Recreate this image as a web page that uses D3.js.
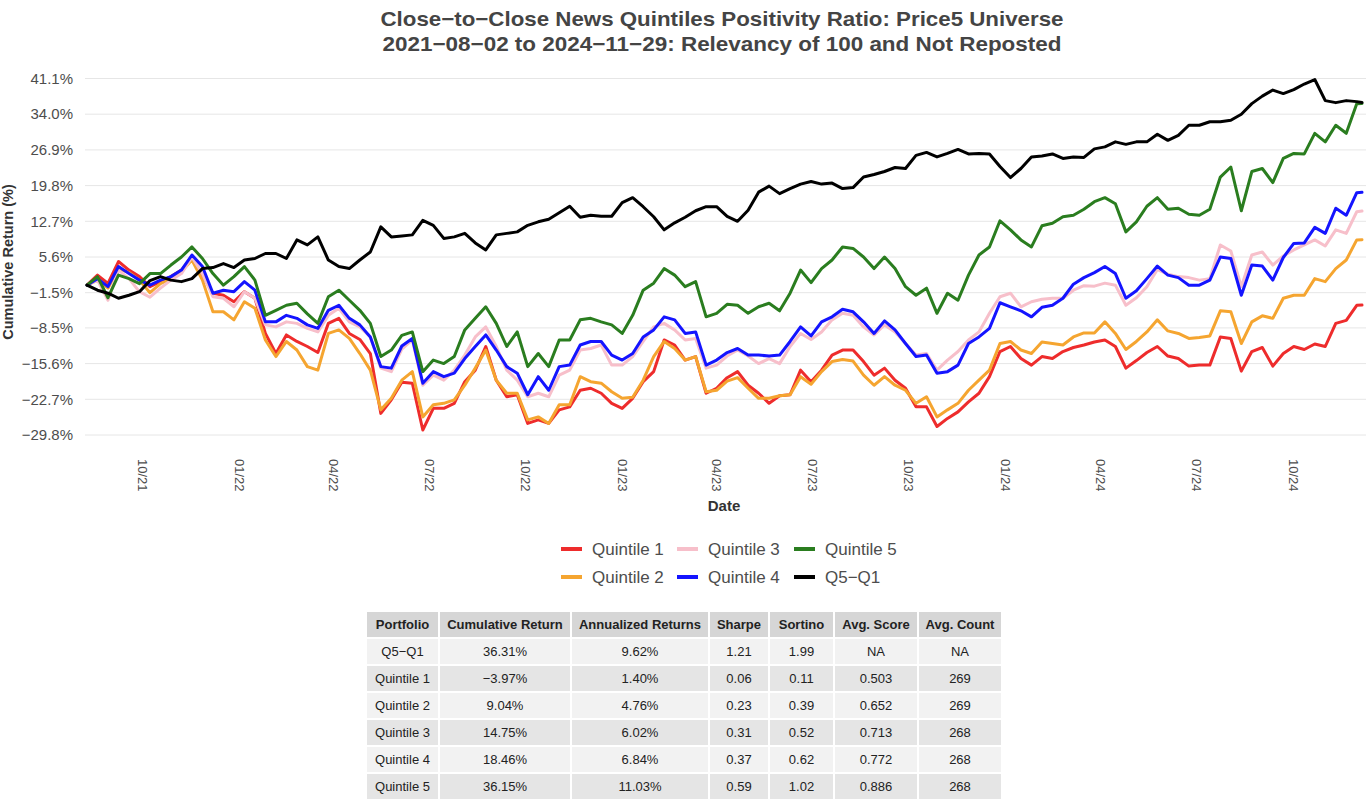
<!DOCTYPE html>
<html><head><meta charset="utf-8">
<script src="https://cdn.jsdelivr.net/npm/d3@7"></script>
<style>body{margin:0;background:#fff}svg{display:block;font-family:"Liberation Sans",Arial,sans-serif}</style>
</head><body><svg id="c" width="1366" height="802"></svg>
<script>
const dates = ["2021-08-02","2021-08-12","2021-08-22","2021-09-01","2021-09-11","2021-09-21","2021-10-01","2021-10-11","2021-10-21","2021-10-31","2021-11-10","2021-11-20","2021-11-30","2021-12-10","2021-12-20","2021-12-30","2022-01-09","2022-01-19","2022-01-29","2022-02-08","2022-02-18","2022-02-28","2022-03-10","2022-03-20","2022-03-30","2022-04-09","2022-04-19","2022-04-29","2022-05-09","2022-05-19","2022-05-29","2022-06-08","2022-06-18","2022-06-28","2022-07-08","2022-07-18","2022-07-28","2022-08-07","2022-08-17","2022-08-27","2022-09-06","2022-09-16","2022-09-26","2022-10-06","2022-10-16","2022-10-26","2022-11-05","2022-11-15","2022-11-25","2022-12-05","2022-12-15","2022-12-25","2023-01-04","2023-01-14","2023-01-24","2023-02-03","2023-02-13","2023-02-23","2023-03-05","2023-03-15","2023-03-25","2023-04-04","2023-04-14","2023-04-24","2023-05-04","2023-05-14","2023-05-24","2023-06-03","2023-06-13","2023-06-23","2023-07-03","2023-07-13","2023-07-23","2023-08-02","2023-08-12","2023-08-22","2023-09-01","2023-09-11","2023-09-21","2023-10-01","2023-10-11","2023-10-21","2023-10-31","2023-11-10","2023-11-20","2023-11-30","2023-12-10","2023-12-20","2023-12-30","2024-01-09","2024-01-19","2024-01-29","2024-02-08","2024-02-18","2024-02-28","2024-03-09","2024-03-19","2024-03-29","2024-04-08","2024-04-18","2024-04-28","2024-05-08","2024-05-18","2024-05-28","2024-06-07","2024-06-17","2024-06-27","2024-07-07","2024-07-17","2024-07-27","2024-08-06","2024-08-16","2024-08-26","2024-09-05","2024-09-15","2024-09-25","2024-10-05","2024-10-15","2024-10-25","2024-11-04","2024-11-14","2024-11-24","2024-11-29"];

const quintile1 = [0,2.0,0.35,4.7,3.0,1.7,-0.3,0.7,1.7,3.0,5.6,2.0,-1.6,-2.0,-3.3,-1.3,-2.6,-9.6,-13.6,-9.9,-11.2,-12.2,-13.4,-7.6,-6.6,-9.6,-10.8,-13.6,-25.5,-22.8,-19.3,
-19.5,-28.8,-24.5,-24.5,-23.5,-19.2,-16.9,-12.2,-18.9,-22.2,-21.8,-27.5,-26.8,-27.5,-24.8,-24.2,-20.9,-20.5,-21.5,-23.5,-24.5,-22.5,-19.2,-17.2,-10.9,-11.9,-14.9,-14.2,-21.5,-20.5,-18.4,
-17.2,-19.9,-21.5,-23.5,-22.0,-21.8,-16.9,-19.2,-16.9,-13.9,-12.9,-12.9,-15.2,-17.9,-16.5,-18.9,-20.5,-24.2,-24.2,-28.1,-26.5,-25.2,-23.2,-21.5,-18.2,-13.2,-12.2,-14.6,-15.9,-14.2,
-14.6,-13.2,-12.4,-11.9,-11.3,-10.9,-12.2,-16.5,-15.0,-13.4,-12.2,-14.1,-14.6,-16.1,-15.9,-15.9,-10.3,-10.6,-17.1,-13.2,-12.4,-16.1,-13.6,-12.2,-12.8,-11.7,-12.2,-7.6,-7.0,-4.0,-3.97];

const quintile2 = [0,1.0,-0.6,3.3,2.5,1.0,-1.5,0.3,1.3,2.7,5.0,1.0,-5.3,-5.3,-6.9,-3.3,-4.6,-10.9,-14.2,-11.2,-12.9,-16.2,-16.9,-9.6,-8.9,-10.6,-13.6,-16.9,-24.8,-22.5,-18.9,
-17.2,-26.2,-23.8,-23.5,-22.8,-19.9,-16.5,-12.9,-18.9,-21.5,-21.5,-26.8,-26.2,-27.5,-23.8,-23.8,-18.2,-19.2,-19.5,-21.2,-22.5,-22.3,-18.9,-14.2,-11.2,-12.6,-14.9,-14.2,-21.2,-20.9,-19.1,
-18.4,-20.5,-22.5,-22.5,-22.0,-21.8,-18.2,-19.7,-17.2,-15.2,-14.8,-15.1,-17.9,-19.9,-18.2,-19.9,-20.9,-23.5,-22.2,-26.2,-24.8,-23.5,-20.9,-18.9,-16.9,-11.6,-11.2,-12.9,-13.6,-11.3,
-11.6,-11.9,-10.3,-9.5,-9.5,-7.3,-9.6,-12.8,-11.2,-9.3,-6.9,-9.1,-9.6,-10.6,-10.4,-10.1,-5.1,-5.3,-11.6,-7.3,-6.1,-6.6,-2.6,-2.0,-2.0,1.3,0.7,3.3,5.0,9.0,9.04];

const quintile3 = [0,1.0,-3.0,3.0,1.3,-1.3,-2.4,-0.6,1.0,2.3,5.6,2.3,-2.3,-2.6,-4.3,-1.3,-2.6,-7.9,-8.3,-7.3,-7.6,-8.6,-9.3,-6.0,-4.6,-7.3,-8.3,-10.3,-16.5,-17.2,-12.7,
-10.9,-19.9,-17.9,-18.9,-16.9,-13.9,-10.3,-8.3,-12.2,-16.9,-18.9,-22.2,-21.5,-22.2,-17.9,-16.9,-12.9,-12.6,-11.9,-15.9,-15.9,-14.2,-11.2,-8.3,-7.6,-8.9,-10.9,-10.6,-16.5,-15.9,-14.1,
-12.9,-14.1,-15.6,-14.6,-15.6,-12.2,-9.6,-10.8,-9.3,-6.9,-5.6,-6.0,-8.3,-9.9,-7.9,-9.3,-11.6,-13.9,-13.6,-16.9,-14.9,-13.2,-10.9,-9.3,-5.6,-2.3,-1.6,-4.3,-3.3,-2.8,
-2.6,-2.6,-1.0,-0.1,-0.2,0.4,0.0,-4.0,-2.5,-0.3,3.1,2.2,1.7,1.5,1.0,1.3,8.0,6.8,-0.3,6.0,6.6,4.0,5.8,7.0,8.0,9.0,7.8,11.0,10.3,14.6,14.75];

const quintile4 = [0,1.3,-0.3,3.7,2.3,1.0,0.0,1.0,1.7,3.0,6.0,3.7,-1.6,-1.0,-1.3,0.7,-1.0,-7.3,-7.3,-6.0,-6.6,-7.9,-8.6,-5.0,-4.0,-6.6,-7.9,-10.3,-16.2,-16.5,-12.1,
-10.6,-19.5,-17.2,-18.2,-17.5,-14.6,-12.2,-9.9,-12.9,-16.2,-17.5,-21.8,-18.2,-20.9,-16.2,-15.9,-11.9,-11.2,-11.2,-13.9,-14.9,-13.6,-10.3,-8.9,-6.3,-6.9,-9.6,-9.3,-15.9,-14.9,-13.4,
-12.6,-13.9,-13.9,-14.1,-13.9,-11.2,-8.3,-10.1,-7.3,-6.3,-4.8,-5.3,-7.3,-9.6,-7.1,-8.9,-11.6,-14.2,-13.9,-17.5,-17.2,-15.9,-11.6,-10.3,-8.6,-3.5,-4.3,-5.1,-6.3,-4.4,
-4.0,-2.6,0.2,1.5,2.5,3.7,2.3,-2.6,-1.1,1.3,3.8,2.0,1.5,0.0,0.0,1.0,5.6,5.3,-2.0,4.0,3.8,1.0,5.5,8.3,8.4,11.5,10.3,15.3,13.9,18.4,18.46];

const quintile5 = [0,1.7,-2.5,2.0,1.3,0.3,2.3,2.3,4.0,5.6,7.6,5.3,2.3,0.0,1.7,3.7,1.0,-6.0,-5.0,-4.0,-3.6,-5.7,-7.6,-2.3,-1.0,-3.0,-5.0,-7.6,-14.2,-12.9,-10.0,
-9.3,-17.2,-14.9,-15.6,-14.2,-8.9,-6.6,-4.3,-7.6,-12.2,-9.3,-16.2,-13.6,-16.2,-10.9,-10.9,-6.9,-6.6,-7.3,-7.9,-9.6,-6.0,-1.0,0.4,3.3,2.0,-0.3,0.7,-6.3,-5.6,-3.8,
-4.0,-5.6,-4.3,-3.6,-5.1,-1.6,3.0,0.5,3.3,5.0,7.6,7.3,5.6,3.3,5.6,3.3,-0.3,-2.0,-0.6,-5.6,-1.6,-3.0,2.0,6.0,7.6,12.8,11.0,9.0,7.6,11.8,
12.3,13.6,13.9,15.1,16.6,17.4,16.2,10.6,12.6,15.7,17.4,15.1,15.3,14.1,13.9,15.1,21.5,23.5,14.8,22.6,23.2,20.4,25.2,26.2,26.1,30.2,28.5,31.8,30.2,36.1,36.15];

const q5MinusQ1 = [0,-1.0,-1.6,-2.6,-2.0,-1.3,0.9,1.7,1.0,0.7,1.3,3.3,3.5,4.3,3.5,5.0,5.3,6.3,6.3,5.3,9.0,8.0,9.6,5.0,3.7,3.3,5.0,6.6,11.6,9.6,9.8,
10.0,12.9,11.9,9.3,9.6,10.3,8.4,7.0,10.0,10.3,10.6,11.9,12.6,13.1,14.4,15.7,13.5,13.9,13.7,13.7,16.4,17.4,15.6,13.6,11.0,12.4,13.5,14.8,15.6,15.6,13.7,
12.7,14.9,18.5,19.7,18.2,19.2,20.1,20.6,20.1,20.3,19.2,19.4,21.5,22.0,22.6,23.4,23.2,25.8,26.4,25.5,26.2,27.0,26.1,26.2,26.1,23.6,21.4,23.2,25.5,25.7,
26.1,25.2,25.5,25.4,27.1,27.5,28.5,28.0,28.5,28.5,30.0,28.8,29.8,31.8,31.8,32.5,32.5,32.8,34.0,36.1,37.6,38.8,38.1,38.9,40.0,40.9,36.7,36.3,36.7,36.5,36.31];

const seriesNames = ["Quintile 1","Quintile 2","Quintile 3","Quintile 4","Quintile 5","Q5−Q1"];
const seriesColors = ["#ee2c2c","#f5a530","#f7bfca","#1414ff","#2a7d1f","#000000"];
const yTickLabels = ["41.1%","34.0%","26.9%","19.8%","12.7%","5.6%","−1.5%","−8.5%","−15.6%","−22.7%","−29.8%"];
const yTickValues = [41.1,34.0,26.9,19.8,12.7,5.6,-1.5,-8.5,-15.6,-22.7,-29.8];
const xTickDates = ["2021-10-01","2022-01-01","2022-04-01","2022-07-01","2022-10-01","2023-01-01","2023-04-01","2023-07-01","2023-10-01","2024-01-01","2024-04-01","2024-07-01","2024-10-01"];

const tableHeader = ["Portfolio","Cumulative Return","Annualized Returns","Sharpe","Sortino","Avg. Score","Avg. Count"];
const tablePortfolio = ["Q5−Q1","Quintile 1","Quintile 2","Quintile 3","Quintile 4","Quintile 5"];
const tableCumReturn = ["36.31%","−3.97%","9.04%","14.75%","18.46%","36.15%"];
const tableAnnReturn = ["9.62%","1.40%","4.76%","6.02%","6.84%","11.03%"];
const tableSharpe = ["1.21","0.06","0.23","0.31","0.37","0.59"];
const tableSortino = ["1.99","0.11","0.39","0.52","0.62","1.02"];
const tableAvgScore = ["NA","0.503","0.652","0.713","0.772","0.886"];
const tableAvgCount = ["NA","269","269","268","268","268"];

const svg = d3.select("#c");
const parse = d3.utcParse("%Y-%m-%d");
const dts = dates.map(parse);
const x = d3.scaleUtc().domain([dts[0], dts[dts.length-1]]).range([87, 1362]);
const y = d3.scaleLinear().domain([-29.8, 41.1]).range([435, 78.5]);
const plotL = 85, plotR = 1366;

// title
const title = svg.append("g").attr("font-weight","bold").attr("fill","#444").attr("font-size",21).attr("text-anchor","middle");
title.append("text").attr("x",722).attr("y",26).attr("textLength",683).attr("lengthAdjust","spacingAndGlyphs")
  .text("Close−to−Close News Quintiles Positivity Ratio: Price5 Universe");
title.append("text").attr("x",722).attr("y",51).attr("textLength",679).attr("lengthAdjust","spacingAndGlyphs")
  .text("2021−08−02 to 2024−11−29: Relevancy of 100 and Not Reposted");

// grid + y ticks
const gy = svg.append("g");
gy.selectAll("line").data(yTickValues).join("line")
  .attr("x1",plotL).attr("x2",plotR).attr("y1",d=>y(d)).attr("y2",d=>y(d))
  .attr("stroke","#e6e6e6").attr("stroke-width",1);
gy.selectAll("text").data(yTickValues).join("text")
  .attr("x",73).attr("y",d=>y(d)).attr("dy","0.35em").attr("text-anchor","end")
  .attr("font-size",15).attr("fill","#4d4d4d").text((d,i)=>yTickLabels[i]);

svg.append("text").attr("transform","translate(13,262) rotate(-90)").attr("text-anchor","middle")
  .attr("font-size",14.5).attr("font-weight","bold").attr("fill","#333").text("Cumulative Return (%)");

// x ticks
const xt = xTickDates.map(parse);
const fmt = d3.utcFormat("%m/%y");
svg.append("g").selectAll("text").data(xt).join("text")
  .attr("transform",d=>`translate(${x(d)-7},459) rotate(90)`)
  .attr("dy","0.35em").attr("text-anchor","start").attr("font-size",13).attr("fill","#4d4d4d")
  .text(d=>fmt(d));
svg.append("text").attr("x",724).attr("y",511).attr("text-anchor","middle").attr("font-size",15)
  .attr("font-weight","bold").attr("fill","#333").text("Date");

// lines
const allSeries = [quintile1,quintile2,quintile3,quintile4,quintile5,q5MinusQ1];
const line = d3.line().x((d,i)=>x(dts[i])).y(d=>y(d));
svg.append("g").selectAll("path").data(allSeries).join("path")
  .attr("d",line).attr("fill","none").attr("stroke",(d,i)=>seriesColors[i])
  .attr("stroke-width",3).attr("stroke-linejoin","round").attr("stroke-linecap","round");

// legend
const legendOrder = [0,2,4,1,3,5];
const colX = [561,677,794];
const rowY = [549,577];
const lg = svg.append("g");
legendOrder.forEach((si,j)=>{
  const cx = colX[j%3], cy = rowY[Math.floor(j/3)];
  lg.append("line").attr("x1",cx).attr("x2",cx+21).attr("y1",cy).attr("y2",cy)
    .attr("stroke",seriesColors[si]).attr("stroke-width",4);
  lg.append("text").attr("x",cx+31).attr("y",cy).attr("dy","0.36em").attr("font-size",17)
    .attr("fill","#4d4d4d").text(seriesNames[si]);
});

// table
const colEdges = [366,439,571,709,769,834,918,1002];
const rowH = 27, top0 = 611;
const cols = [tablePortfolio,tableCumReturn,tableAnnReturn,tableSharpe,tableSortino,tableAvgScore,tableAvgCount];
const tg = svg.append("g");
for (let r=0; r<=tablePortfolio.length; r++){
  const ty = top0 + r*rowH;
  const fill = r===0 ? "#d6d6d6" : (r%2===1 ? "#f2f2f2" : "#e5e5e5");
  for (let c=0;c<7;c++){
    tg.append("rect").attr("x",colEdges[c]+1).attr("y",ty+1).attr("width",colEdges[c+1]-colEdges[c]-2)
      .attr("height",rowH-2).attr("fill",fill);
    tg.append("text").attr("x",(colEdges[c]+colEdges[c+1])/2).attr("y",ty+rowH/2).attr("dy","0.36em")
      .attr("text-anchor","middle").attr("font-size",13).attr("fill","#222")
      .attr("font-weight",r===0?"bold":"normal")
      .text(r===0 ? tableHeader[c] : cols[c][r-1]);
  }
}
</script></body></html>
